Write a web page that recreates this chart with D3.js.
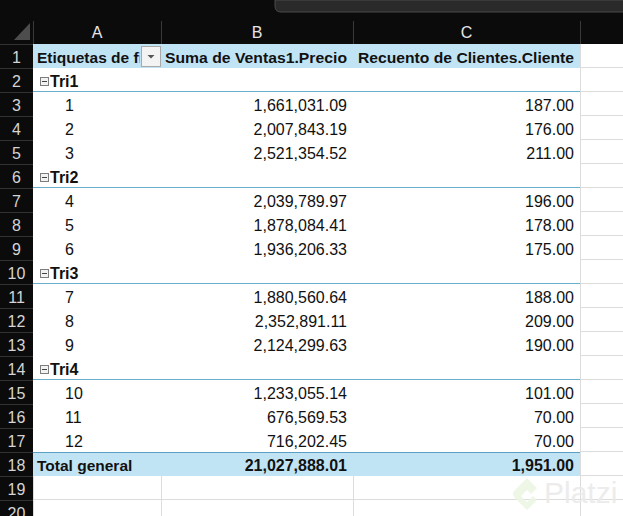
<!DOCTYPE html>
<html>
<head>
<meta charset="utf-8">
<script src="https://cdn.jsdelivr.net/npm/d3@7"></script>
<style>
  body { margin: 0; background: #0b0b0b; }
  svg { display: block; }
  text { font-family: "Liberation Sans", Arial, sans-serif; }
</style>
</head>
<body>
<div id="sheet"></div>
<script>
const width = 623
const height = 516

// pivot data read from the sheet
const quarters = ['Tri1', 'Tri2', 'Tri3', 'Tri4']
const months = [1, 2, 3, 4, 5, 6, 7, 8, 9, 10, 11, 12]
const ventas = [1661031.09, 2007843.19, 2521354.52, 2039789.97, 1878084.41, 1936206.33,
  1880560.64, 2352891.11, 2124299.63, 1233055.14, 676569.53, 716202.45]
const clientes = [187, 176, 211, 196, 178, 175, 188, 209, 190, 101, 70, 70]
const colLetters = ['A', 'B', 'C']
const headers = ['Etiquetas de fila', 'Suma de Ventas1.Precio', 'Recuento de Clientes.Cliente']
const totalLabel = 'Total general'

// flatten into sheet rows
const rows = [{ type: 'header' }]
quarters.forEach((q, qi) => {
  rows.push({ type: 'group', label: q })
  months.slice(qi * 3, qi * 3 + 3).forEach(m => {
    rows.push({ type: 'item', label: String(m), v: ventas[m - 1], c: clientes[m - 1] })
  })
})
rows.push({ type: 'total', label: totalLabel, v: d3.sum(ventas), c: d3.sum(clientes) })
rows.push({ type: 'empty' }, { type: 'empty' })

const fmt = d3.format(',.2f')

// column edges: row-number gutter, A, B, C, D
const colEdges = [0, 33, 161, 353, 580, 660]
const headTop = 44
const rowH = 24

const y = d3.scaleLinear().domain([0, 1]).range([headTop, headTop + rowH])

const svg = d3.select('#sheet').append('svg')
  .attr('width', width)
  .attr('height', height)

// black chrome
svg.append('rect').attr('width', width).attr('height', height).attr('fill', '#0b0b0b')

// grey formula-bar stub top-right
svg.append('path')
  .attr('d', 'M275,0 L275,6 Q275,12 281,12 L630,12 L630,0 Z')
  .attr('fill', '#2a2a2a')
  .attr('stroke', '#4a4a4a')
  .attr('stroke-width', 1)

// corner triangle
svg.append('path').attr('d', 'M30,23 L30,40 L14,40 Z').attr('fill', '#4d4d4d')

// column header letters + separators
colEdges.slice(1, 5).forEach(x0 => {
  svg.append('line')
    .attr('x1', x0 + 0.5).attr('x2', x0 + 0.5)
    .attr('y1', 21).attr('y2', headTop)
    .attr('stroke', '#3a3a3a')
})
colLetters.forEach((l, i) => {
  svg.append('text')
    .attr('x', (colEdges[i + 1] + colEdges[i + 2]) / 2)
    .attr('y', 38)
    .attr('text-anchor', 'middle')
    .attr('font-size', 16)
    .attr('fill', '#e6e6e6')
    .text(l)
})

// cells area background
svg.append('rect')
  .attr('x', colEdges[1]).attr('y', headTop)
  .attr('width', width - colEdges[1]).attr('height', height - headTop)
  .attr('fill', '#ffffff')

const pivotRight = colEdges[4]
const nRows = rows.length

// light grid outside the pivot
const grid = svg.append('g').attr('stroke', '#dcdcdc').attr('stroke-width', 1)
for (let i = 1; i <= nRows; i++) {
  grid.append('line')
    .attr('x1', pivotRight).attr('x2', width)
    .attr('y1', y(i) - 0.5).attr('y2', y(i) - 0.5)
}
grid.append('line')
  .attr('x1', pivotRight + 0.5).attr('x2', pivotRight + 0.5)
  .attr('y1', headTop).attr('y2', height)
const afterPivot = y(rows.findIndex(r => r.type === 'empty'))
for (let i = 1; i <= 3; i++) {
  grid.append('line')
    .attr('x1', colEdges[i] + 0.5).attr('x2', colEdges[i] + 0.5)
    .attr('y1', afterPivot).attr('y2', height)
}
grid.append('line')
  .attr('x1', colEdges[1]).attr('x2', pivotRight)
  .attr('y1', y(nRows - 1) - 0.5).attr('y2', y(nRows - 1) - 0.5)

// row numbers gutter
const gutter = svg.append('g')
rows.forEach((r, i) => {
  gutter.append('line')
    .attr('x1', 0).attr('x2', colEdges[1])
    .attr('y1', y(i) + 0.5).attr('y2', y(i) + 0.5)
    .attr('stroke', '#333333')
  gutter.append('text')
    .attr('x', 16.5)
    .attr('y', y(i) + 19)
    .attr('text-anchor', 'middle')
    .attr('font-size', 16)
    .attr('fill', '#d4d4d4')
    .text(i + 1)
})

// pivot rows
const valueX = [colEdges[3] - 6, colEdges[4] - 6]
rows.forEach((r, i) => {
  const top = y(i)
  const base = top + 19
  if (r.type === 'header' || r.type === 'total') {
    svg.append('rect')
      .attr('x', colEdges[1]).attr('y', top)
      .attr('width', pivotRight - colEdges[1]).attr('height', rowH)
      .attr('fill', '#c1e4f5')
  }
  if (r.type === 'header') {
    svg.append('clipPath').attr('id', 'clipA')
      .append('rect').attr('x', colEdges[1]).attr('y', top).attr('width', 140 - colEdges[1]).attr('height', rowH)
    svg.append('text')
      .attr('clip-path', 'url(#clipA)')
      .attr('x', 37).attr('y', base)
      .attr('font-size', 15.5).attr('font-weight', 'bold').attr('fill', '#111')
      .text(headers[0])
    // filter dropdown button
    svg.append('rect')
      .attr('x', 141.5).attr('y', top + 2.5).attr('width', 19).attr('height', 20)
      .attr('fill', '#f3f3f3').attr('stroke', '#a9a9a9')
    svg.append('path')
      .attr('d', `M147.5,${top + 11} L154.5,${top + 11} L151,${top + 14.5} Z`)
      .attr('fill', '#555')
    headers.slice(1).forEach((h, k) => {
      svg.append('text')
        .attr('x', valueX[k]).attr('y', base)
        .attr('text-anchor', 'end')
        .attr('font-size', 15.5).attr('font-weight', 'bold').attr('fill', '#111')
        .attr('textLength', k === 0 ? 182 : 216)
        .attr('lengthAdjust', 'spacingAndGlyphs')
        .text(h)
    })
  } else if (r.type === 'group') {
    svg.append('rect')
      .attr('x', 40.5).attr('y', top + 9.5).attr('width', 8).attr('height', 8)
      .attr('fill', '#f2f2f2').attr('stroke', '#7d7d7d')
    svg.append('line')
      .attr('x1', 42).attr('x2', 47).attr('y1', top + 13.5).attr('y2', top + 13.5)
      .attr('stroke', '#444')
    svg.append('text')
      .attr('x', 50).attr('y', base)
      .attr('font-size', 16).attr('font-weight', 'bold').attr('fill', '#111')
      .text(r.label)
    svg.append('line')
      .attr('x1', colEdges[1]).attr('x2', pivotRight)
      .attr('y1', top + rowH - 0.5).attr('y2', top + rowH - 0.5)
      .attr('stroke', '#6aaed0')
  } else if (r.type === 'item' || r.type === 'total') {
    const bold = r.type === 'total'
    svg.append('text')
      .attr('x', bold ? 37 : 65).attr('y', base)
      .attr('font-size', bold ? 15.5 : 16).attr('font-weight', bold ? 'bold' : 'normal').attr('fill', '#111')
      .text(r.label)
    ;[r.v, r.c].forEach((v, k) => {
      svg.append('text')
        .attr('x', valueX[k]).attr('y', base)
        .attr('text-anchor', 'end')
        .attr('font-size', 16).attr('font-weight', bold ? 'bold' : 'normal').attr('fill', '#111')
        .text(fmt(v))
    })
    if (bold) {
      svg.append('line')
        .attr('x1', colEdges[1]).attr('x2', pivotRight)
        .attr('y1', top + 0.5).attr('y2', top + 0.5)
        .attr('stroke', '#5b9fc4')
    }
  }
})

// watermark
const wm = svg.append('g').attr('opacity', 0.9)
wm.append('path')
  .attr('d', 'M527,478 L537,488 L531,494 L527,490 L521,496 L527,502 L533,496 L537,500 L527,510 L514,497 Q512,494 514,491 Z')
  .attr('fill', '#edf6e4')
wm.append('text')
  .attr('x', 544).attr('y', 503)
  .attr('font-size', 30)
  .attr('fill', '#ebebeb')
  .text('Platzi')
</script>
</body>
</html>
